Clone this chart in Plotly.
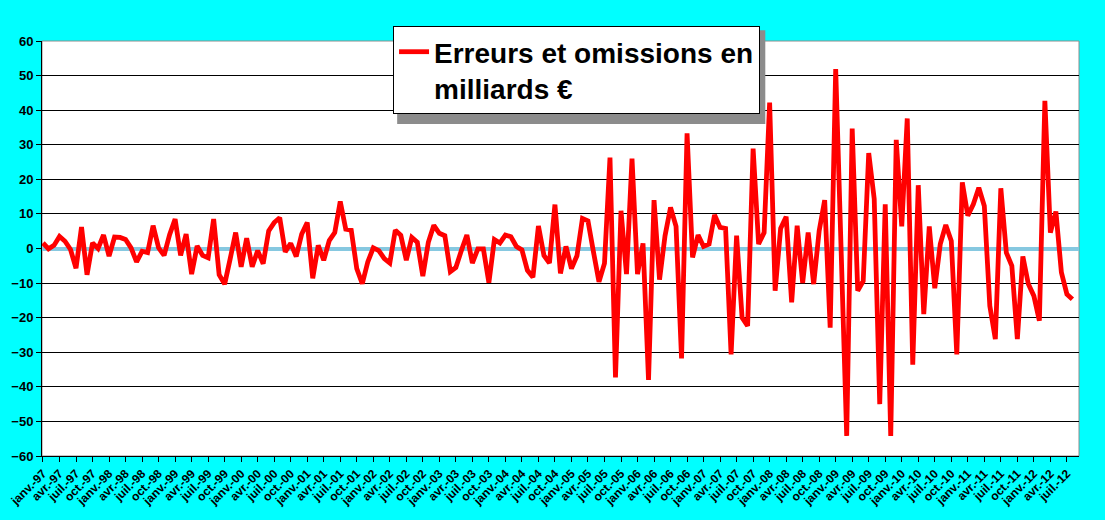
import plotly.graph_objects as go

# mois et annees (janv.-97 -> aout-12)
mois = ["janv.", "févr.", "mars", "avr.", "mai", "juin",
        "juil.", "août", "sept.", "oct.", "nov.", "déc."]
annees = ["97", "98", "99", "00", "01", "02", "03", "04",
          "05", "06", "07", "08", "09", "10", "11", "12"]

# erreurs et omissions, en milliards d'euros (mensuel)
valeurs = [
    1.6, -0.1, 0.9, 3.5, 2.1, -0.3, -5.7, 6.2, -7.6, 1.6, 0.0, 3.9,
    -2.2, 3.3, 3.2, 2.6, 0.2, -3.9, -0.8, -1.2, 6.6, 0.2, -2.0, 4.0,
    8.5, -2.0, 4.2, -7.4, 0.7, -2.0, -2.7, 8.5, -7.6, -10.3, -3.0, 4.6,
    -5.3, 3.0, -5.3, -0.6, -4.4, 5.1, 7.5, 8.9, -1.0, 1.5, -2.3, 4.2,
    7.5, -8.6, 0.9, -3.4, 2.3, 4.6, 13.6, 5.6, 5.3, -5.8, -10.2, -3.9,
    0.2, -0.6, -2.9, -4.2, 5.3, 3.8, -3.4, 3.2, 1.8, -8.0, 1.8, 6.7,
    4.4, 3.7, -6.7, -5.5, -0.6, 3.9, -4.2, -0.1, -0.1, -9.9, 2.6, 1.6,
    3.9, 3.4, 0.6, -0.4, -6.3, -8.3, 6.5, -2.0, -4.2, 12.7, -7.2, 0.6,
    -5.8, -2.1, 8.7, 8.0, -1.0, -9.6, -4.3, 26.3, -37.3, 10.9, -7.4, 26.0,
    -7.4, 1.5, -38.0, 14.0, -9.0, 3.7, 11.9, 6.4, -31.8, 33.3, -2.6, 3.9,
    0.6, 1.3, 9.7, 6.1, 5.8, -30.6, 3.7, -20.0, -22.4, 28.9, 1.3, 4.6,
    42.2, -12.2, 5.8, 9.2, -15.6, 6.6, -10.0, 4.6, -10.3, 5.1, 14.0, -22.9,
    51.9, -1.0, -54.2, 34.7, -12.2, -9.4, 27.6, 14.3, -45.0, 12.8, -54.2, 31.4,
    6.4, 37.6, -33.6, 18.3, -19.0, 6.4, -11.5, 1.3, 6.8, 2.2, -30.6, 19.1,
    9.5, 12.8, 17.6, 12.3, -16.6, -26.2, 17.4, -1.2, -5.0, -26.2, -2.3, -10.3,
    -13.7, -20.9, 42.7, 4.6, 10.7, -6.9, -13.2, -14.7,
]

dates = [m + "-" + a for a in annees for m in mois][:len(valeurs)]
ticks = dates[::3]

fig = go.Figure()
fig.add_trace(go.Scatter(
    x=dates, y=valeurs, mode="lines",
    name="Erreurs et omissions en<br>milliards €",
    line=dict(color="#ff0000", width=4.8),
))

# cadre gris de la zone de tracé
fig.add_shape(type="rect", xref="paper", yref="paper", x0=0, x1=1, y0=0, y1=1,
              line=dict(color="#8c8c8c", width=1), layer="below")

# ligne du zero (bleu clair + trait fonce)
fig.add_shape(type="line", xref="paper", yref="y", x0=0, x1=0.997, y0=0, y1=0,
              line=dict(color="#1f5f80", width=1.2), layer="below")

# ombre de la legende
fig.add_shape(type="rect", xref="paper", yref="paper",
              x0=0.3425, x1=0.6975, y0=0.800, y1=1.026,
              line=dict(width=0), fillcolor="#8c8c8c", layer="above")

fig.update_layout(
    width=1105, height=520,
    paper_bgcolor="#00ffff", plot_bgcolor="white",
    margin=dict(l=42, r=26, t=41, b=64, autoexpand=False),
    font=dict(family="Liberation Sans, Arial", color="black", weight="bold"),
    showlegend=True,
    legend=dict(
        xref="container", yref="container",
        x=0.3557, y=0.95, xanchor="left", yanchor="top",
        bgcolor="white", bordercolor="black", borderwidth=1,
        font=dict(size=28, weight="bold"), valign="top",
    ),
)

fig.update_xaxes(
    type="category", range=[-0.18, 188.2], automargin=False,
    tickmode="array", tickvals=ticks, ticktext=ticks, tickangle=-45,
    tickfont=dict(size=12), ticks="outside", ticklen=5, tickcolor="black",
    showgrid=False, showline=True, linecolor="black", linewidth=1,
    mirror=False,
)
fig.update_yaxes(
    range=[-60, 60], dtick=10, tickfont=dict(size=13), automargin=False,
    ticks="outside", ticklen=5, tickcolor="black",
    showgrid=True, gridcolor="black", gridwidth=1,
    showline=True, linecolor="black", linewidth=1,
    zeroline=True, zerolinecolor="#86c8e0", zerolinewidth=4,
)

fig.write_html(
    "out.html",
    config={"displayModeBar": False},
    post_script="document.body.style.margin='0';"
                "document.body.style.background='#00ffff';",
)
